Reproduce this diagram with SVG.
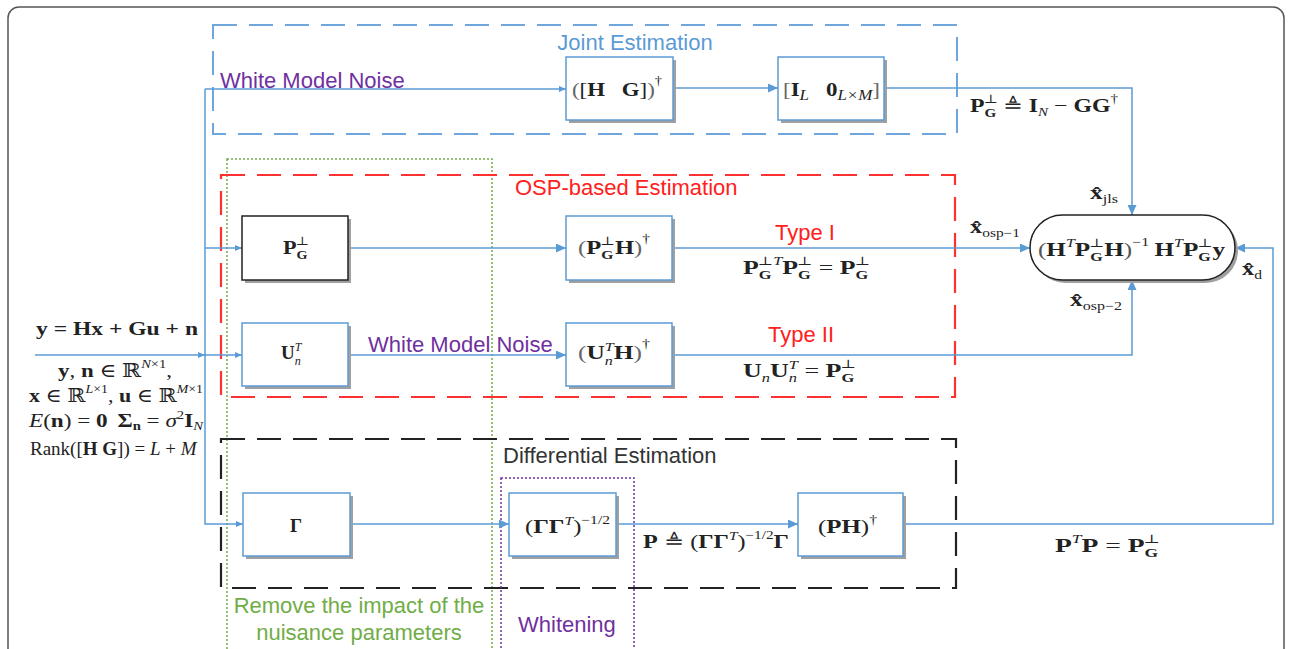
<svg xmlns="http://www.w3.org/2000/svg" width="1294" height="649" viewBox="0 0 1294 649">
<style>
.frame{fill:#fff;stroke:#555;stroke-width:1.5}
.box{fill:#fff;stroke:#5b9bd5;stroke-width:1.5}
.boxk{fill:#fff;stroke:#222;stroke-width:1.5}
.sh{fill:#a0a0a0}
.wire{fill:none;stroke:#5b9bd5;stroke-width:1.5}
.m{font-family:"Liberation Serif","DejaVu Serif",serif;fill:#222;font-size:19px}
.b{font-weight:bold}
.it{font-style:italic}
.s{font-size:12px}
.lbl{font-family:"Liberation Sans",Arial,sans-serif;font-size:22px}
.blue{fill:#5b9bd5}
.purple{fill:#7030a0}
.red{fill:#ff2020}
.green{fill:#70ad47}
</style>
<defs>
<marker id="a" markerUnits="userSpaceOnUse" markerWidth="10" markerHeight="9" refX="10" refY="4.5" orient="auto"><path d="M0,0 L10,4.5 L0,9 z" fill="#5b9bd5"/></marker>
<marker id="as" markerUnits="userSpaceOnUse" markerWidth="7" markerHeight="6" refX="7" refY="3" orient="auto"><path d="M0,0 L7,3 L0,6 z" fill="#5b9bd5"/></marker>
</defs>
<rect class="frame" x="8" y="7" width="1276" height="700" rx="11"/>

<g id="regions">
<rect x="213" y="25" width="744" height="109" fill="none" stroke="#6fa6dc" stroke-width="2" stroke-dasharray="24 12"/>
<rect x="227" y="159" width="265" height="560" fill="none" stroke="#70ad47" stroke-width="1.5" stroke-dasharray="2 2"/>
<rect x="221" y="175" width="734" height="222" fill="none" stroke="#ff3030" stroke-width="2.2" stroke-dasharray="24 12"/>
<rect x="221" y="439" width="735" height="149" fill="none" stroke="#222" stroke-width="2.2" stroke-dasharray="24 12"/>
<rect x="501" y="478" width="133" height="240" fill="none" stroke="#7030a0" stroke-width="1.5" stroke-dasharray="2 2"/>
</g>

<g id="connectors">
<path class="wire" d="M35,355 H205" marker-end="url(#as)"/>
<path class="wire" d="M205,355 H242" marker-end="url(#as)"/>
<path class="wire" d="M205,89 V524 H243" marker-end="url(#as)"/>
<path class="wire" d="M205,89 H566" marker-end="url(#as)"/>
<path class="wire" d="M205,248 H242" marker-end="url(#as)"/>
<path class="wire" d="M673,88 H778" marker-end="url(#a)"/>
<path class="wire" d="M884,88 H1132 V215" marker-end="url(#a)"/>
<path class="wire" d="M348,248 H566" marker-end="url(#a)"/>
<path class="wire" d="M672,248 H1030" marker-end="url(#a)"/>
<path class="wire" d="M348,355 H566" marker-end="url(#a)"/>
<path class="wire" d="M672,355 H1132 V280" marker-end="url(#a)"/>
<path class="wire" d="M350,524 H509" marker-end="url(#a)"/>
<path class="wire" d="M616,524 H798" marker-end="url(#a)"/>
<path class="wire" d="M903,524 H1273 V248 H1235" marker-end="url(#a)"/>
</g>

<g id="n_hg">
<rect class="sh" x="569" y="60" width="107" height="63"/>
<rect class="box" x="566" y="57" width="107" height="63"/>
<text class="m" x="572" y="96" font-size="22" textLength="90" lengthAdjust="spacingAndGlyphs"><tspan fill="#666">(</tspan>[<tspan class="b">H</tspan><tspan class="b" dx="14">G</tspan>]<tspan fill="#666">)</tspan><tspan class="s" dy="-11">†</tspan></text>
</g>
<g id="n_il">
<rect class="sh" x="781" y="60" width="106" height="63"/>
<rect class="box" x="778" y="57" width="106" height="63"/>
<text class="m" x="783" y="96" font-size="22" textLength="97" lengthAdjust="spacingAndGlyphs"><tspan fill="#666">[</tspan><tspan class="b">I</tspan><tspan class="it" font-size="14" dy="4">L</tspan><tspan class="b" dx="14" dy="-4">0</tspan><tspan class="it" font-size="14" dy="4">L×M</tspan><tspan fill="#666" dy="-4">]</tspan></text>
</g>
<g id="n_pg">
<rect class="sh" x="245" y="219" width="106" height="64"/>
<rect class="boxk" x="242" y="216" width="106" height="64"/>
<text class="m" x="283" y="254" font-size="22" textLength="26" lengthAdjust="spacingAndGlyphs"><tspan class="b">P</tspan><tspan class="b s" dy="5">G</tspan><tspan class="s" dx="-10" dy="-14">⊥</tspan></text>
</g>
<g id="n_pgh">
<rect class="sh" x="569" y="219" width="106" height="64"/>
<rect class="box" x="566" y="216" width="106" height="64"/>
<text class="m" x="578" y="254" font-size="21" textLength="72" lengthAdjust="spacingAndGlyphs"><tspan fill="#666">(</tspan><tspan class="b">P</tspan><tspan class="b s" dy="5">G</tspan><tspan class="s" dx="-10" dy="-14">⊥</tspan><tspan class="b" dy="9">H</tspan><tspan fill="#666">)</tspan><tspan class="s" dy="-11">†</tspan></text>
</g>
<g id="n_un">
<rect class="sh" x="245" y="326" width="106" height="63"/>
<rect class="box" x="242" y="323" width="106" height="63"/>
<text class="m" x="281" y="359" font-size="22"><tspan class="b">U</tspan><tspan class="it s" dy="6">n</tspan><tspan class="it s" dx="-6" dy="-14">T</tspan></text>
</g>
<g id="n_unh">
<rect class="sh" x="569" y="326" width="106" height="63"/>
<rect class="box" x="566" y="323" width="106" height="63"/>
<text class="m" x="578" y="359" font-size="21" textLength="72" lengthAdjust="spacingAndGlyphs"><tspan fill="#666">(</tspan><tspan class="b">U</tspan><tspan class="it s" dy="6">n</tspan><tspan class="it s" dx="-6" dy="-14">T</tspan><tspan class="b" dy="8">H</tspan><tspan fill="#666">)</tspan><tspan class="s" dy="-11">†</tspan></text>
</g>
<g id="n_gamma">
<rect class="sh" x="246" y="496" width="107" height="63"/>
<rect class="box" x="243" y="493" width="107" height="63"/>
<text class="m b" x="296" y="532" font-size="22" text-anchor="middle">Γ</text>
</g>
<g id="n_ggt">
<rect class="sh" x="512" y="496" width="107" height="63"/>
<rect class="box" x="509" y="493" width="107" height="63"/>
<text class="m" x="525" y="533" font-size="20" textLength="85" lengthAdjust="spacingAndGlyphs">(<tspan class="b">ΓΓ</tspan><tspan class="it s" dy="-8">T</tspan><tspan dy="8">)</tspan><tspan class="s" dy="-9">−1/2</tspan></text>
</g>
<g id="n_ph">
<rect class="sh" x="801" y="496" width="105" height="63"/>
<rect class="box" x="798" y="493" width="105" height="63"/>
<text class="m" x="818" y="533" font-size="21" textLength="59" lengthAdjust="spacingAndGlyphs">(<tspan class="b">PH</tspan>)<tspan class="s" dy="-9">†</tspan></text>
</g>
<g id="n_est">
<rect class="sh" x="1033" y="218" width="205" height="65" rx="32.5"/>
<rect class="boxk" x="1030" y="215" width="205" height="65" rx="32.5"/>
<text class="m" x="1038" y="256" font-size="22" textLength="187" lengthAdjust="spacingAndGlyphs"><tspan fill="#555">(</tspan><tspan class="b">H</tspan><tspan class="it s" dy="-9">T</tspan><tspan class="b" dy="9">P</tspan><tspan class="b s" dy="5">G</tspan><tspan class="s" dx="-10" dy="-14">⊥</tspan><tspan class="b" dy="9">H</tspan><tspan fill="#555">)</tspan><tspan class="s" dy="-10">−1</tspan><tspan class="b" dx="4" dy="10">H</tspan><tspan class="it s" dy="-9">T</tspan><tspan class="b" dy="9">P</tspan><tspan class="b s" dy="5">G</tspan><tspan class="s" dx="-10" dy="-14">⊥</tspan><tspan class="b" dy="9">y</tspan></text>
</g>

<g id="labels">
<text class="lbl blue" x="635" y="50" text-anchor="middle">Joint Estimation</text>
<text class="lbl purple" x="220" y="88">White Model Noise</text>
<text class="lbl red" x="515" y="195">OSP-based Estimation</text>
<text class="lbl red" x="775" y="240">Type I</text>
<text class="lbl red" x="768" y="342">Type II</text>
<text class="lbl purple" x="368" y="352">White Model Noise</text>
<text class="lbl" x="503" y="463" fill="#333">Differential Estimation</text>
<text class="lbl green" x="359" y="613" text-anchor="middle">Remove the impact of the</text>
<text class="lbl green" x="359" y="640" text-anchor="middle">nuisance parameters</text>
<text class="lbl purple" x="518" y="632">Whitening</text>

<text class="m" x="970" y="112" font-size="21" textLength="148" lengthAdjust="spacingAndGlyphs"><tspan class="b">P</tspan><tspan class="b s" dy="5">G</tspan><tspan class="s" dx="-10" dy="-14">⊥</tspan><tspan dx="4" dy="9">≜ </tspan><tspan class="b">I</tspan><tspan class="it s" dy="4">N</tspan><tspan dy="-4"> − </tspan><tspan class="b">GG</tspan><tspan class="s" dy="-9">†</tspan></text>
<text class="m" x="1090" y="199" font-size="20" textLength="28" lengthAdjust="spacingAndGlyphs"><tspan class="b">x̂</tspan><tspan class="s" dy="4">jls</tspan></text>
<text class="m" x="970" y="233" font-size="20" textLength="50" lengthAdjust="spacingAndGlyphs"><tspan class="b">x̂</tspan><tspan class="s" dy="4">osp−1</tspan></text>
<text class="m" x="1070" y="306" font-size="20" textLength="52" lengthAdjust="spacingAndGlyphs"><tspan class="b">x̂</tspan><tspan class="s" dy="4">osp−2</tspan></text>
<text class="m" x="1242" y="275" font-size="20" textLength="20" lengthAdjust="spacingAndGlyphs"><tspan class="b">x̂</tspan><tspan class="s" dy="4">d</tspan></text>
<text class="m" x="743" y="274" font-size="21" textLength="127" lengthAdjust="spacingAndGlyphs"><tspan class="b">P</tspan><tspan class="b s" dy="5">G</tspan><tspan class="s" dx="-10" dy="-14">⊥</tspan><tspan class="it s">T</tspan><tspan class="b" dy="9">P</tspan><tspan class="b s" dy="5">G</tspan><tspan class="s" dx="-10" dy="-14">⊥</tspan><tspan dy="9"> = </tspan><tspan class="b">P</tspan><tspan class="b s" dy="5">G</tspan><tspan class="s" dx="-10" dy="-14">⊥</tspan></text>
<text class="m" x="743" y="377" font-size="21" textLength="113" lengthAdjust="spacingAndGlyphs"><tspan class="b">U</tspan><tspan class="it s" dy="5">n</tspan><tspan class="b" dy="-5">U</tspan><tspan class="it s" dy="5">n</tspan><tspan class="it s" dx="-6" dy="-13">T</tspan><tspan dy="8"> = </tspan><tspan class="b">P</tspan><tspan class="b s" dy="5">G</tspan><tspan class="s" dx="-10" dy="-14">⊥</tspan></text>
<text class="m" x="643" y="548" font-size="21" textLength="146" lengthAdjust="spacingAndGlyphs"><tspan class="b">P</tspan> ≜ (<tspan class="b">ΓΓ</tspan><tspan class="it s" dy="-8">T</tspan><tspan dy="8">)</tspan><tspan class="s" dy="-9">−1/2</tspan><tspan class="b" dy="9">Γ</tspan></text>
<text class="m" x="1055" y="552" font-size="21" textLength="105" lengthAdjust="spacingAndGlyphs"><tspan class="b">P</tspan><tspan class="it s" dy="-9">T</tspan><tspan class="b" dy="9">P</tspan> = <tspan class="b">P</tspan><tspan class="b s" dy="5">G</tspan><tspan class="s" dx="-10" dy="-14">⊥</tspan></text>

<text class="m b" x="36" y="335" font-size="21" textLength="162" lengthAdjust="spacingAndGlyphs">y = Hx + Gu + n</text>
<text class="m" x="58" y="377" font-size="21" textLength="114" lengthAdjust="spacingAndGlyphs"><tspan class="b">y</tspan>, <tspan class="b">n</tspan> ∈ ℝ<tspan class="it s" dy="-9">N</tspan><tspan class="s">×1</tspan><tspan dy="9">,</tspan></text>
<text class="m" x="29" y="402" font-size="21" textLength="174" lengthAdjust="spacingAndGlyphs"><tspan class="b">x</tspan> ∈ ℝ<tspan class="it s" dy="-9">L</tspan><tspan class="s">×1</tspan><tspan dy="9">, </tspan><tspan class="b">u</tspan> ∈ ℝ<tspan class="it s" dy="-9">M</tspan><tspan class="s">×1</tspan></text>
<text class="m" x="29" y="427" font-size="21" textLength="174" lengthAdjust="spacingAndGlyphs"><tspan class="it">E</tspan>(<tspan class="b">n</tspan>) = <tspan class="b">0</tspan><tspan class="b" dx="8">Σ</tspan><tspan class="b s" dy="3">n</tspan><tspan dy="-3"> = </tspan><tspan class="it">σ</tspan><tspan class="s" dy="-8">2</tspan><tspan class="b" dy="8">I</tspan><tspan class="it s" dy="3">N</tspan></text>
<text class="m" x="30" y="455" font-size="13.5">Rank([<tspan class="b">H G</tspan>]) = <tspan class="it">L</tspan> + <tspan class="it">M</tspan></text>
</g>
</svg>
